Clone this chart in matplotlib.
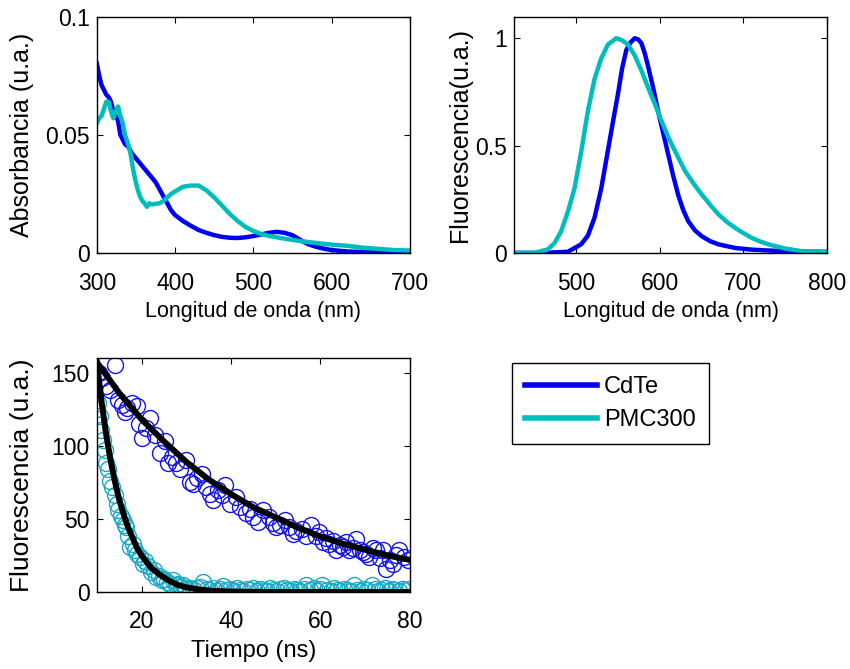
import numpy as np
import matplotlib
matplotlib.use('Agg')
import matplotlib.pyplot as plt

plt.rcParams['font.family'] = ['Liberation Sans', 'DejaVu Sans']

# colores tipo MATLAB
AZUL = '#0000f0'
CIAN = '#00bdbd'
CIAN_PT = '#1aa8c8'

# absorbancia: CdTe
abs_cdte_nm = [300, 303, 306, 309, 312, 315, 318, 321, 324, 327, 330, 333, 336, 340, 345,
               350, 355, 360, 365, 370, 375, 380, 385, 390, 395, 400, 410, 420, 430, 440,
               450, 460, 470, 480, 490, 500, 510, 520, 530, 540, 550, 560, 570, 580, 590,
               600, 620, 640, 660, 680, 700]
abs_cdte = [0.080, 0.075, 0.071, 0.069, 0.067, 0.066, 0.064, 0.060, 0.058, 0.056, 0.050,
            0.048, 0.046, 0.045, 0.042, 0.040, 0.038, 0.036, 0.034, 0.032, 0.030, 0.027,
            0.024, 0.021, 0.018, 0.016, 0.0135, 0.0115, 0.0097, 0.0085, 0.0075, 0.0068,
            0.0064, 0.0063, 0.0066, 0.0071, 0.0078, 0.0085, 0.0089, 0.0085, 0.0075, 0.0055,
            0.0037, 0.0026, 0.0018, 0.0012, 0.0006, 0.0004, 0.0003, 0.0002, 0.0002]

# absorbancia: PMC300
abs_pmc_nm = [300, 303, 306, 309, 312, 315, 318, 321, 324, 327, 330, 333, 336, 340, 343,
              346, 349, 352, 355, 358, 361, 364, 367, 370, 375, 380, 385, 390, 395, 400,
              405, 410, 420, 430, 440, 450, 460, 470, 480, 490, 500, 510, 520, 530, 540,
              550, 560, 580, 600, 620, 640, 660, 680, 700]
abs_pmc = [0.055, 0.057, 0.058, 0.061, 0.064, 0.064, 0.060, 0.057, 0.060, 0.062, 0.058,
           0.055, 0.050, 0.046, 0.042, 0.036, 0.031, 0.027, 0.024, 0.022, 0.021, 0.0195,
           0.021, 0.0205, 0.0208, 0.021, 0.022, 0.0235, 0.025, 0.026, 0.027, 0.028, 0.0285,
           0.0285, 0.0265, 0.0235, 0.020, 0.0165, 0.0135, 0.011, 0.0093, 0.008, 0.0072,
           0.0066, 0.006, 0.0055, 0.005, 0.0042, 0.0035, 0.003, 0.0022, 0.0017, 0.0012, 0.0010]

# fluorescencia normalizada
fl_cdte_nm = [426, 460, 490, 506, 514, 522, 530, 538, 544, 550, 555, 560, 565, 570, 574,
              578, 582, 586, 592, 598, 604, 610, 616, 622, 628, 634, 642, 650, 660, 670,
              690, 710, 730, 760, 800]
fl_cdte = [0.0, 0.0, 0.005, 0.04, 0.08, 0.164, 0.30, 0.477, 0.61, 0.74, 0.86, 0.945, 0.98,
           1.0, 0.995, 0.977, 0.93, 0.87, 0.77, 0.66, 0.56, 0.46, 0.36, 0.27, 0.20, 0.148,
           0.105, 0.078, 0.055, 0.04, 0.023, 0.015, 0.011, 0.007, 0.005]

fl_pmc_nm = [426, 450, 466, 474, 482, 490, 498, 506, 514, 522, 530, 538, 548, 555, 562,
             570, 578, 586, 594, 602, 610, 620, 630, 640, 650, 660, 670, 680, 690, 700,
             710, 720, 730, 750, 770, 800]
fl_pmc = [0.0, 0.0, 0.016, 0.045, 0.10, 0.19, 0.30, 0.47, 0.66, 0.81, 0.906, 0.97, 1.0,
          0.99, 0.97, 0.92, 0.85, 0.77, 0.695, 0.615, 0.54, 0.46, 0.383, 0.325, 0.273,
          0.225, 0.18, 0.145, 0.117, 0.092, 0.07, 0.053, 0.04, 0.02, 0.008, 0.005]

# decaimiento CdTe (puntos)
t_cdte = [10.5, 11.2, 12.0, 13.0, 14.1, 14.8, 15.6, 16.3, 16.8, 17.8, 18.9, 19.5, 20.0,
          21.0, 21.9, 23.0, 24.1, 25.2, 26.0, 26.9, 27.8, 28.6, 30.0, 30.8, 31.5, 32.3,
          33.5, 34.4, 35.3, 36.0, 37.0, 37.9, 38.6, 39.7, 41.2, 42.0, 43.4, 44.2, 44.9,
          46.0, 47.2, 48.6, 49.3, 50.1, 51.0, 52.0, 53.0, 53.8, 54.6, 56.0, 56.8, 57.9,
          59.0, 59.8, 60.5, 61.3, 62.0, 62.8, 63.5, 64.3, 65.0, 65.8, 66.5, 67.2, 68.0,
          68.8, 69.5, 70.2, 71.0, 71.8, 72.5, 73.3, 74.0, 74.7, 75.5, 76.2, 77.0, 77.7,
          78.8, 79.6]
f_cdte = [150, 146, 141, 138, 155, 131, 128, 123, 126, 129, 127, 115, 105, 112, 119, 107,
          95, 103, 88, 92, 88, 84, 90, 75, 74, 78, 81, 72, 67, 63, 70, 66, 73, 60, 65, 58,
          54, 57, 51, 48, 56, 51, 47, 44.5, 46, 49, 44.5, 40, 42, 43, 38, 46, 38, 41, 34,
          37, 33, 35, 28.5, 32, 31, 34, 28.5, 30, 36.5, 29, 27.4, 26, 24, 30, 28.5, 23,
          28.5, 16, 22, 19.4, 25, 28.5, 24, 21.7]

# decaimiento PMC300 (puntos)
t_pmc = [10.0, 10.3, 10.6, 11.0, 11.4, 11.8, 12.1, 12.5, 12.9, 13.4, 14.0, 14.4, 14.8,
         15.3, 15.9, 16.3, 16.6, 17.0, 17.4, 18.0, 18.5, 19.0, 19.6, 20.3, 20.8, 21.4,
         22.2, 22.7, 23.3, 23.9, 24.5, 25.0, 25.6, 26.3, 27.0, 27.6, 28.2, 28.8, 29.3,
         30.0, 30.8, 31.5, 32.3, 33.0, 33.8, 34.6, 35.3, 36.0, 36.8, 37.5, 38.3, 39.0,
         39.8, 40.5, 41.3, 42.0, 42.8, 43.5, 44.3, 45.0, 45.8, 46.5, 47.3, 48.0, 48.8,
         49.5, 50.3, 51.0, 51.8, 52.5, 53.3, 54.0, 54.8, 55.5, 56.3, 56.9, 57.8, 58.5,
         59.3, 60.0, 60.4, 61.5, 62.3, 63.0, 63.8, 64.5, 65.3, 66.0, 66.8, 67.5, 68.3,
         69.0, 69.8, 70.5, 71.5, 72.3, 73.0, 73.8, 74.5, 75.3, 76.0, 76.8, 77.5, 78.3,
         79.0, 79.8]
f_pmc = [125, 129, 120, 111, 104, 97, 88, 84, 76, 72, 66, 60, 56, 52, 49, 46, 44.5, 38, 31,
         33, 28.5, 26, 24, 19.4, 21, 18, 13.7, 15, 10.3, 11, 8, 9, 6.8, 5.5, 8, 4.5, 5.7,
         3.5, 4.6, 2.5, 3, 2, 2.5, 3.5, 6.8, 2, 1.5, 2.5, 1, 2, 4, 1.5, 2, 1, 2.5, 1.5, 1,
         2, 1.5, 3, 1, 2, 1.5, 1, 2.5, 1.5, 1, 2, 3, 1.5, 1, 2, 1.5, 1, 2, 4.8, 1.5, 3,
         1, 2, 4.8, 1.5, 1, 2.5, 1.5, 1, 2, 1.5, 1, 4.8, 1.5, 1, 2, 1.5, 4.8, 2, 1, 1.5,
         2.5, 1, 2, 1.5, 1, 2, 1.5, 2]

# ajustes (curvas negras)
t_fit_cdte = [10, 15, 20, 25, 30, 35, 40, 45, 50, 55, 60, 65, 70, 75, 80]
y_fit_cdte = [157, 136, 118, 103, 89, 77, 67, 58, 51, 44, 38, 33, 29, 25, 22]
t_fit_pmc = [10, 11, 12, 13, 14, 15, 16, 17, 18, 19, 20, 22, 24, 26, 28, 30, 33, 36, 40,
             50, 60, 70, 80]
y_fit_pmc = [157, 131, 109, 91, 76, 63, 53, 44, 37, 30, 25, 17, 12, 8, 5, 3.2, 1.7, 0.8,
             0.3, 0, 0, 0, 0]


def estilo(ax):
    ax.tick_params(direction='in', length=4, width=0.8, top=True, right=True,
                   labelsize=16.5)
    ax.tick_params(axis='x', pad=14)
    ax.tick_params(axis='y', pad=5)
    for s in ax.spines.values():
        s.set_linewidth(1.0)


fig = plt.figure(figsize=(8.5, 6.69), dpi=100)

# absorbancia
ax1 = fig.add_axes([0.114, 0.622, 0.368, 0.353])
l1, = ax1.plot(abs_cdte_nm, abs_cdte, color=AZUL, lw=3.2, label='CdTe')
l2, = ax1.plot(abs_pmc_nm, abs_pmc, color=CIAN, lw=3.2, label='PMC300')
ax1.set_xlim(300, 700)
ax1.set_ylim(0, 0.1)
ax1.set_xticks([300, 400, 500, 600, 700])
ax1.set_yticks([0, 0.05, 0.1])
ax1.set_yticklabels(['0', '0.05', '0.1'])
ax1.set_xlabel('Longitud de onda (nm)', fontsize=15.5)
ax1.set_ylabel('Absorbancia (u.a.)', fontsize=18)
ax1.xaxis.set_label_coords(0.5, -0.205)
ax1.yaxis.set_label_coords(-0.2, 0.5)
estilo(ax1)

# fluorescencia
ax2 = fig.add_axes([0.605, 0.622, 0.368, 0.353])
ax2.plot(fl_cdte_nm, fl_cdte, color=AZUL, lw=3.2)
ax2.plot(fl_pmc_nm, fl_pmc, color=CIAN, lw=3.2)
ax2.set_xlim(426, 800)
ax2.set_ylim(0, 1.1)
ax2.set_xticks([500, 600, 700, 800])
ax2.set_yticks([0, 0.5, 1])
ax2.set_yticklabels(['0', '0.5', '1'])
ax2.set_xlabel('Longitud de onda (nm)', fontsize=15.5)
ax2.set_ylabel('Fluorescencia(u.a.)', fontsize=18)
ax2.xaxis.set_label_coords(0.5, -0.205)
ax2.yaxis.set_label_coords(-0.135, 0.5)
estilo(ax2)

# decaimiento
ax3 = fig.add_axes([0.114, 0.115, 0.368, 0.350])
ax3.plot(t_cdte, f_cdte, 'o', mfc='none', mec='#1414e6', ms=11.5, mew=1.0)
ax3.plot(t_pmc, f_pmc, 'o', mfc='none', mec=CIAN_PT, ms=11.5, mew=1.0)
ax3.plot(t_fit_cdte, y_fit_cdte, color='black', lw=4.3)
ax3.plot(t_fit_pmc, y_fit_pmc, color='black', lw=4.3)
ax3.set_xlim(10, 80)
ax3.set_ylim(0, 160)
ax3.set_xticks([20, 40, 60, 80])
ax3.set_yticks([0, 50, 100, 150])
ax3.set_xlabel('Tiempo (ns)', fontsize=17)
ax3.set_ylabel('Fluorescencia (u.a.)', fontsize=19)
ax3.xaxis.set_label_coords(0.5, -0.205)
ax3.yaxis.set_label_coords(-0.2, 0.5)
estilo(ax3)
ax3.tick_params(axis='x', pad=13)

# leyenda
leg = fig.legend(handles=[l1, l2], loc='upper left', bbox_to_anchor=(0.602, 0.457),
                 borderaxespad=0, fontsize=17, handlelength=3.05, handletextpad=0.3,
                 labelspacing=0.45, borderpad=0.55, fancybox=False, framealpha=1)
leg.get_frame().set_edgecolor('black')
leg.get_frame().set_linewidth(1.0)
for h in leg.get_lines():
    h.set_linewidth(4)

fig.savefig('out.png', dpi=100)
